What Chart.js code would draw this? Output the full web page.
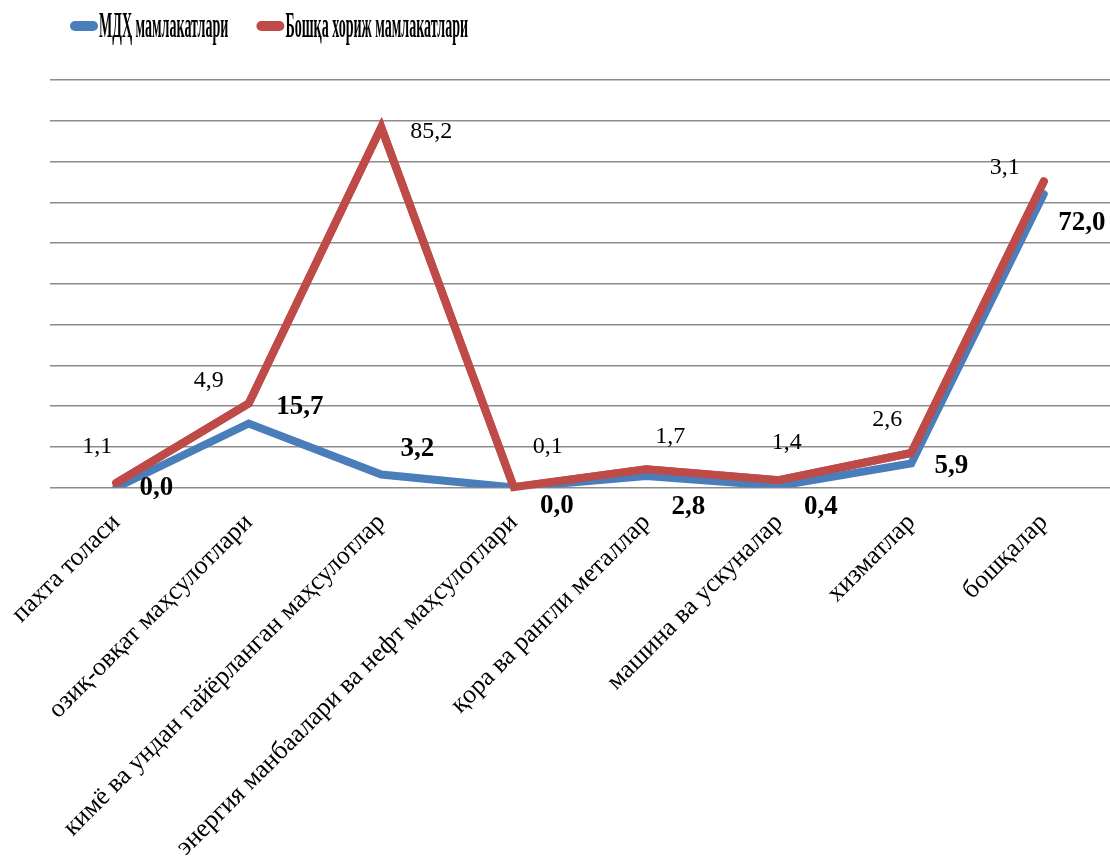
<!DOCTYPE html>
<html>
<head>
<meta charset="utf-8">
<script src="https://cdn.jsdelivr.net/npm/chart.js@4.4.0/dist/chart.umd.min.js"></script>
<style>
  html, body { margin: 0; padding: 0; background: #fff; }
  #wrap { width: 1110px; height: 862px; }
</style>
</head>
<body>
<div id="wrap"><canvas id="chart"></canvas></div>
<script>
// data
const categories = [
    'пахта толаси',
    'озиқ-овқат маҳсулотлари',
    'кимё ва ундан тайёрланган маҳсулотлар',
    'энергия манбаалари ва нефт маҳсулотлари',
    'қора ва рангли металлар',
    'машина ва ускуналар',
    'хизматлар',
    'бошқалар'
];
const seriesNames = ['МДҲ мамлакатлари', 'Бошқа хориж мамлакатлари'];
const cisValues = [0.0, 15.7, 3.2, 0.0, 2.8, 0.4, 5.9, 72.0];
const otherValues = [1.1, 4.9, 85.2, 0.1, 1.7, 1.4, 2.6, 3.1];
const yMin = 0, yMax = 100, yStep = 10;

// styling
const blue = '#4a7ebb';
const red = '#be4b48';
const serif = "'Liberation Serif', 'Times New Roman', serif";
// label nudges (px) relative to each point, like the hand-placed labels in the original
const cisLabelShift = [[40, 1], [51, -16], [36, -25], [43, 19], [42, 31], [42, 21], [40, 3], [38, 29]];
const otherLabelShift = [[-19, -36], [-40, -23], [50, 4], [34, -40], [24, -32], [8, -37], [-24, -33], [-39, -14]];

function fmt(v) {
    return v.toFixed(1).replace('.', ',');
}

const labelsPlugin = {
    id: 'pointLabels',
    afterDatasetsDraw(chart) {
        const ctx = chart.ctx;
        // red line sits on top of the blue one in the original
        chart.getDatasetMeta(1).controller.draw();

        ctx.save();
        ctx.fillStyle = '#000';
        ctx.textAlign = 'center';
        ctx.textBaseline = 'middle';
        const sets = [
            { meta: chart.getDatasetMeta(0), vals: cisValues, shift: cisLabelShift, font: 'bold 27px ' + serif },
            { meta: chart.getDatasetMeta(1), vals: otherValues, shift: otherLabelShift, font: '24px ' + serif }
        ];
        sets.forEach(function (s) {
            ctx.font = s.font;
            s.meta.data.forEach(function (pt, i) {
                ctx.fillText(fmt(s.vals[i]), pt.x + s.shift[i][0], pt.y + s.shift[i][1]);
            });
        });
        ctx.restore();
    }
};

const legendPlugin = {
    id: 'squeezedLegend',
    afterDraw(chart) {
        const ctx = chart.ctx;
        const squeeze = 0.39;
        let x = 70;
        const y = 26;
        ctx.save();
        ctx.font = 'bold 36px ' + serif;
        ctx.textBaseline = 'alphabetic';
        ctx.fillStyle = '#000';
        chart.data.datasets.forEach(function (ds) {
            ctx.strokeStyle = ds.borderColor;
            ctx.lineWidth = 10;
            ctx.lineCap = 'round';
            ctx.beginPath();
            ctx.moveTo(x + 5, y);
            ctx.lineTo(x + 23, y);
            ctx.stroke();
            x += 29;
            ctx.save();
            ctx.translate(x, y + 11);
            ctx.scale(squeeze, 1);
            ctx.fillText(ds.label, 0, 0);
            ctx.restore();
            x += ctx.measureText(ds.label).width * squeeze + 28;
        });
        ctx.restore();
    }
};

const ctx = document.getElementById('chart').getContext('2d');
const chart = new Chart(ctx, {
    type: 'line',
    data: {
        labels: categories,
        datasets: [{
            label: seriesNames[0],
            data: cisValues,
            borderColor: blue,
            backgroundColor: blue,
            borderWidth: 8,
            borderCapStyle: 'round',
            borderJoinStyle: 'miter',
            pointRadius: 0,
            tension: 0,
            fill: false
        }, {
            label: seriesNames[1],
            data: otherValues,
            borderColor: red,
            backgroundColor: red,
            borderWidth: 8,
            borderCapStyle: 'round',
            borderJoinStyle: 'miter',
            pointRadius: 0,
            tension: 0,
            fill: false
        }]
    },
    options: {
        responsive: true,
        maintainAspectRatio: false,
        animation: false,
        layout: {
            padding: { top: 80, left: 50, right: 0, bottom: 0 }
        },
        plugins: {
            legend: { display: false },
            tooltip: { enabled: false }
        },
        scales: {
            x: {
                offset: true,
                grid: { display: false, drawTicks: false },
                border: { display: false },
                ticks: {
                    autoSkip: false,
                    maxRotation: 45,
                    minRotation: 45,
                    padding: 20,
                    color: '#000',
                    font: { family: serif, size: 26 }
                },
                afterFit: function (scale) {
                    scale.height = 374.5;
                    scale.paddingLeft = 0;
                    scale.paddingRight = 0;
                }
            },
            y: {
                stacked: true,
                min: yMin,
                max: yMax,
                ticks: { display: false, stepSize: yStep },
                grid: { color: '#8c8c8c', lineWidth: 1.5, drawTicks: false },
                border: { display: false },
                afterFit: function (scale) {
                    scale.width = 0;
                }
            }
        }
    },
    plugins: [labelsPlugin, legendPlugin]
});
</script>
</body>
</html>
